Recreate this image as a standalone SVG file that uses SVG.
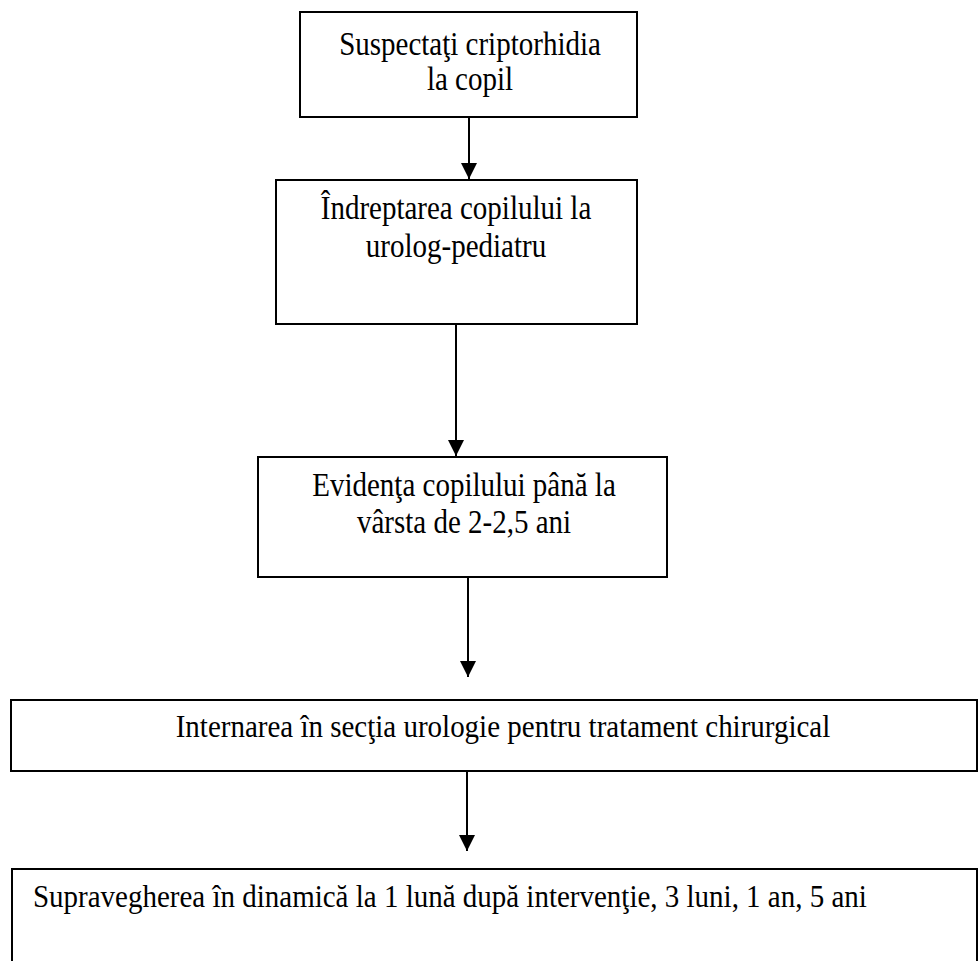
<svg xmlns="http://www.w3.org/2000/svg" width="980" height="961" viewBox="0 0 980 961">
<defs>
<style>
.box{fill:#fff;stroke:#000;stroke-width:2}
.t{font-family:"Liberation Serif","Times New Roman",serif;font-size:29px;fill:#000}
.c{text-anchor:middle}
.conn{stroke:#000;stroke-width:2;fill:none}
</style>
<marker id="ah" viewBox="0 0 10 10" refX="10" refY="5" markerWidth="8" markerHeight="8" markerUnits="strokeWidth" orient="auto">
<path d="M0,0 L10,5 L0,10 Z" fill="#000"/>
</marker>
</defs>
<rect width="980" height="961" fill="#fff"/>
<g id="connectors">
<line class="conn" x1="469" y1="117" x2="469" y2="179" marker-end="url(#ah)"/>
<line class="conn" x1="456" y1="324" x2="456" y2="456" marker-end="url(#ah)"/>
<line class="conn" x1="468" y1="577" x2="468" y2="677" marker-end="url(#ah)"/>
<line class="conn" x1="467" y1="771" x2="467" y2="851" marker-end="url(#ah)"/>
</g>
<g id="n1">
<rect class="box" x="300" y="12" width="337" height="105"/>
<text class="t c" transform="translate(470,55) scale(1,1.15)">Suspectaţi criptorhidia</text>
<text class="t c" transform="translate(470,90) scale(1,1.15)">la copil</text>
</g>
<g id="n2">
<rect class="box" x="276" y="180" width="361" height="144"/>
<text class="t c" transform="translate(456,219) scale(1,1.15)">Îndreptarea copilului la</text>
<text class="t c" transform="translate(456,257) scale(1,1.15)">urolog-pediatru</text>
</g>
<g id="n3">
<rect class="box" x="258" y="457" width="409" height="120"/>
<text class="t c" transform="translate(464,496) scale(1,1.15)">Evidenţa copilului până la</text>
<text class="t c" transform="translate(464,533) scale(1,1.15)">vârsta de 2-2,5 ani</text>
</g>
<g id="n4">
<rect class="box" x="11" y="700" width="966" height="71"/>
<text class="t c" transform="translate(503,737) scale(1,1.1)">Internarea în secţia urologie pentru tratament chirurgical</text>
</g>
<g id="n5">
<path class="box" d="M12,970 L12,869 L977,869 L977,970"/>
<text class="t" transform="translate(33,907) scale(1,1.1)">Supravegherea în dinamică la 1 lună după intervenţie, 3 luni, 1 an, 5 ani</text>
</g>
</svg>
